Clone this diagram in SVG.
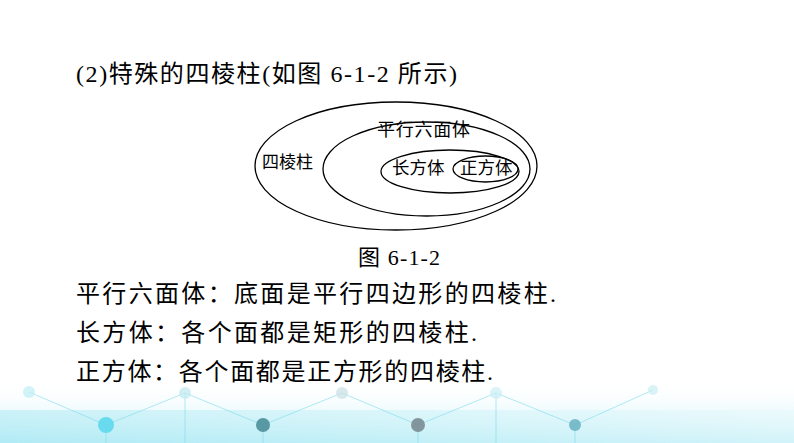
<svg xmlns="http://www.w3.org/2000/svg" width="794" height="443" viewBox="0 0 794 443">
<defs>
<linearGradient id="bg" x1="0" y1="0" x2="0" y2="1">
<stop offset="0" stop-color="#ffffff" stop-opacity="0"/>
<stop offset="1" stop-color="#bfeef7" stop-opacity="1"/>
</linearGradient>
<linearGradient id="fadeX" x1="0" y1="0" x2="1" y2="0">
<stop offset="0" stop-color="#9fe6f2"/>
<stop offset="0.6" stop-color="#c9f2f8"/>
<stop offset="1" stop-color="#e6f8fb"/>
</linearGradient>
<style>
.e{fill:none;stroke:#000;stroke-width:1.3}
.t{font-family:"Liberation Serif","Noto Sans CJK SC",serif;fill:#000}
.d{stroke:#7fdbeb;stroke-width:1;fill:none;opacity:0.6}
</style>
</defs>
<rect width="794" height="443" fill="#fff"/>
<g id="background">
<rect x="0" y="380" width="794" height="63" fill="url(#bg)"/>
<rect x="0" y="410" width="794" height="33" fill="url(#fadeX)" opacity="0.45"/>
<path class="d" d="M29 392 L106 425 L185 393 L263 425 L342 393 L418 425 L496 393 L575 425 L653 390 M106 425 L106 443 M263 425 L263 443 M418 425 L418 443 M575 425 L575 443 M185 393 L185 443 M496 393 L496 443"/>
<circle cx="29" cy="392" r="6" fill="#bfeef5" opacity="0.7"/>
<circle cx="106" cy="425" r="8" fill="#5fd8ec" opacity="0.9"/>
<circle cx="185" cy="393" r="6" fill="#bfe9ee" opacity="0.7"/>
<circle cx="263" cy="425" r="7" fill="#4b8f9a" opacity="0.9"/>
<circle cx="342" cy="393" r="6" fill="#c9dfe2" opacity="0.7"/>
<circle cx="418" cy="425" r="7" fill="#7a8c92" opacity="0.9"/>
<circle cx="496" cy="393" r="6" fill="#c9eef3" opacity="0.7"/>
<circle cx="575" cy="425" r="6" fill="#6fb6c3" opacity="0.9"/>
<circle cx="653" cy="390" r="5" fill="#c9eef3" opacity="0.7"/>
</g>
<text class="t" x="76" y="82" font-size="24" textLength="381" lengthAdjust="spacing">(2)特殊的四棱柱(如图 6-1-2 所示)</text>
<g id="n-silengzhu">
<ellipse class="e" cx="396" cy="166" rx="141" ry="64"/>
<text class="t" x="262" y="168" font-size="17">四棱柱</text>
</g>
<g id="n-pingxing">
<ellipse class="e" cx="426.5" cy="169" rx="103.5" ry="47"/>
<text class="t" x="377" y="136" font-size="18" textLength="93" lengthAdjust="spacing">平行六面体</text>
</g>
<g id="n-changfang">
<ellipse class="e" cx="450" cy="171.5" rx="69" ry="21.5"/>
<text class="t" x="392" y="174" font-size="17.5">长方体</text>
</g>
<g id="n-zhengfang">
<ellipse class="e" cx="485.5" cy="169" rx="32.5" ry="13"/>
<text class="t" x="460" y="174" font-size="17.5">正方体</text>
</g>
<g id="connectors"></g>
<text class="t" x="358" y="265" font-size="22" textLength="82" lengthAdjust="spacing">图 6-1-2</text>
<text class="t" x="76" y="302" font-size="24" textLength="480" lengthAdjust="spacing">平行六面体：底面是平行四边形的四棱柱.</text>
<text class="t" x="76" y="341" font-size="24" textLength="401" lengthAdjust="spacing">长方体：各个面都是矩形的四棱柱.</text>
<text class="t" x="76" y="380" font-size="24" textLength="417" lengthAdjust="spacing">正方体：各个面都是正方形的四棱柱.</text>
</svg>
